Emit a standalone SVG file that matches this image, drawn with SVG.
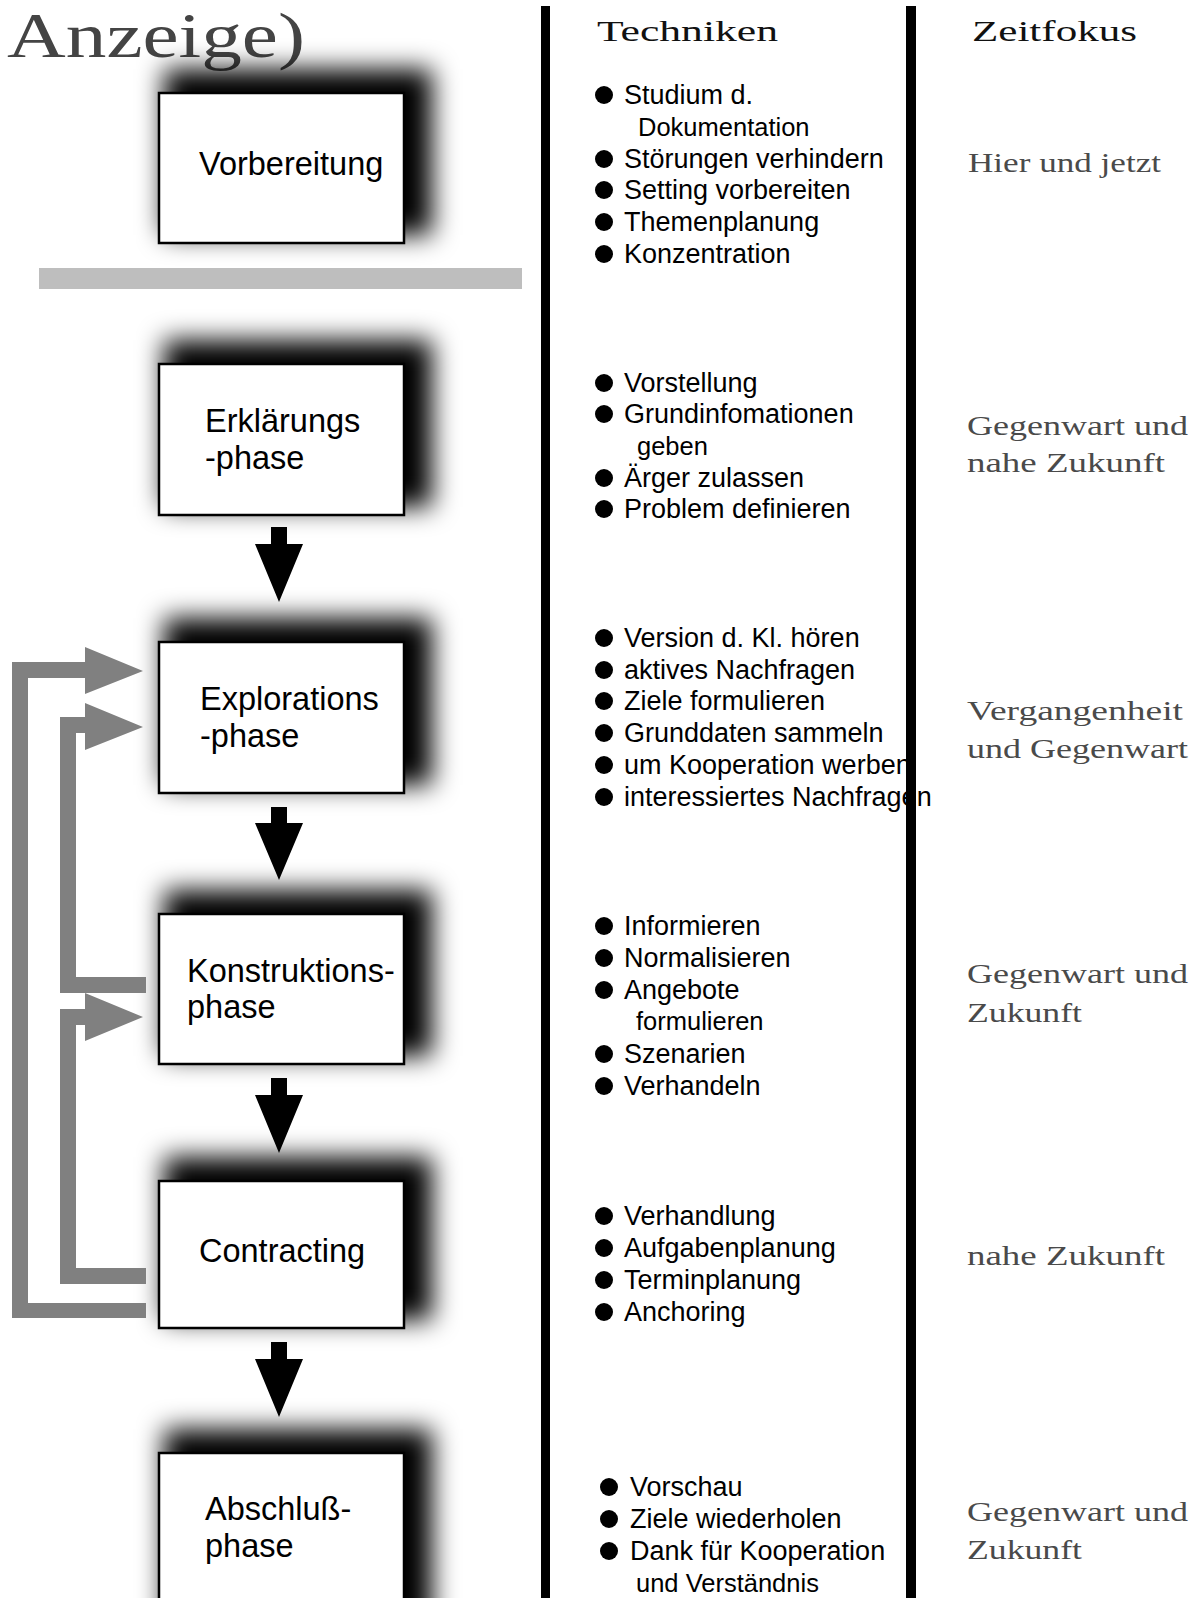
<svg xmlns="http://www.w3.org/2000/svg" width="1198" height="1598" viewBox="0 0 1198 1598">
<style>
.box{fill:#fff;stroke:#000;stroke-width:2.5}
.shadow{fill:#000;filter:url(#blur)}
.lbl{font-family:"Liberation Sans",Arial,sans-serif;font-size:32.5px;fill:#000}
.b{font-family:"Liberation Sans",Arial,sans-serif;font-size:27px;fill:#000}
.c{font-family:"Liberation Sans",Arial,sans-serif;font-size:25.5px;fill:#000}
.z{font-family:"Liberation Serif","Times New Roman",serif;font-size:27px;fill:#4a4a4a}
.h{font-family:"Liberation Serif","Times New Roman",serif;font-size:30px;fill:#111}
.fb{fill:#808080}
.down{fill:#000}
.bul{fill:#000}
</style>
<defs>
<filter id="blur" x="-40%" y="-50%" width="180%" height="200%">
<feGaussianBlur stdDeviation="13"/>
</filter>
</defs>
<rect width="1198" height="1598" fill="#fff"/>

<text x="7" y="57" font-family="'Liberation Serif','Times New Roman',serif" font-size="64" fill="#444" textLength="298" lengthAdjust="spacingAndGlyphs">Anzeige)</text>

<rect x="39" y="268" width="483" height="21" fill="#bebebe"/>

<g id="node-vorbereitung">
<rect class="shadow" x="164" y="69" width="268" height="166"/>
<rect class="box" x="159" y="93" width="245" height="150"/>
<text class="lbl" x="199" y="175">Vorbereitung</text>
</g>
<g id="node-erklaerungsphase">
<rect class="shadow" x="164" y="340" width="268" height="167"/>
<rect class="box" x="159" y="364" width="245" height="151"/>
<text class="lbl" x="205" y="432">Erklärungs</text>
<text class="lbl" x="205" y="469">-phase</text>
</g>
<g id="node-explorationsphase">
<rect class="shadow" x="164" y="618" width="268" height="167"/>
<rect class="box" x="159" y="642" width="245" height="151"/>
<text class="lbl" x="200" y="710">Explorations</text>
<text class="lbl" x="200" y="747">-phase</text>
</g>
<g id="node-konstruktionsphase">
<rect class="shadow" x="164" y="890" width="268" height="166"/>
<rect class="box" x="159" y="914" width="245" height="150"/>
<text class="lbl" x="187" y="982">Konstruktions-</text>
<text class="lbl" x="187" y="1018">phase</text>
</g>
<g id="node-contracting">
<rect class="shadow" x="164" y="1157" width="268" height="163"/>
<rect class="box" x="159" y="1181" width="245" height="147"/>
<text class="lbl" x="199" y="1262">Contracting</text>
</g>
<g id="node-abschlussphase">
<rect class="shadow" x="164" y="1429" width="268" height="200"/>
<rect class="box" x="159" y="1453" width="245" height="170"/>
<text class="lbl" x="205" y="1520">Abschluß-</text>
<text class="lbl" x="205" y="1557">phase</text>
</g>

<g id="connectors">
<polygon class="down" points="271,527 287,527 287,544 303,544 279,602 255,544 271,544"/>
<polygon class="down" points="271,807 287,807 287,823 303,823 279,880 255,823 271,823"/>
<polygon class="down" points="271,1078 287,1078 287,1095 303,1095 279,1153 255,1095 271,1095"/>
<polygon class="down" points="271,1342 287,1342 287,1359 303,1359 279,1417 255,1359 271,1359"/>
<polygon class="fb" points="146,1318 12,1318 12,662 85,662 85,647 143,671 85,694 85,678 28,678 28,1303 146,1303"/>
<polygon class="fb" points="146,993 60,993 60,717 85,717 85,703 143,727 85,750 85,733 76,733 76,977 146,977"/>
<polygon class="fb" points="146,1284 60,1284 60,1009 85,1009 85,993 143,1017 85,1041 85,1025 76,1025 76,1268 146,1268"/>
</g>

<text class="h" x="597" y="41" textLength="181" lengthAdjust="spacingAndGlyphs">Techniken</text>
<text class="h" x="972" y="41" textLength="165" lengthAdjust="spacingAndGlyphs">Zeitfokus</text>

<g id="techniken-vorbereitung">
<circle class="bul" cx="604" cy="95" r="9"/><text class="b" x="624" y="104">Studium d.</text>
<text class="c" x="638" y="136">Dokumentation</text>
<circle class="bul" cx="604" cy="159" r="9"/><text class="b" x="624" y="168">Störungen verhindern</text>
<circle class="bul" cx="604" cy="190" r="9"/><text class="b" x="624" y="199">Setting vorbereiten</text>
<circle class="bul" cx="604" cy="222" r="9"/><text class="b" x="624" y="231">Themenplanung</text>
<circle class="bul" cx="604" cy="254" r="9"/><text class="b" x="624" y="263">Konzentration</text>
</g>
<g id="techniken-erklaerung">
<circle class="bul" cx="604" cy="383" r="9"/><text class="b" x="624" y="392">Vorstellung</text>
<circle class="bul" cx="604" cy="414" r="9"/><text class="b" x="624" y="423">Grundinfomationen</text>
<text class="c" x="637" y="455">geben</text>
<circle class="bul" cx="604" cy="478" r="9"/><text class="b" x="624" y="487">Ärger zulassen</text>
<circle class="bul" cx="604" cy="509" r="9"/><text class="b" x="624" y="518">Problem definieren</text>
</g>
<g id="techniken-exploration">
<circle class="bul" cx="604" cy="638" r="9"/><text class="b" x="624" y="647">Version d. Kl. hören</text>
<circle class="bul" cx="604" cy="670" r="9"/><text class="b" x="624" y="679">aktives Nachfragen</text>
<circle class="bul" cx="604" cy="701" r="9"/><text class="b" x="624" y="710">Ziele formulieren</text>
<circle class="bul" cx="604" cy="733" r="9"/><text class="b" x="624" y="742">Grunddaten sammeln</text>
<circle class="bul" cx="604" cy="765" r="9"/><text class="b" x="624" y="774">um Kooperation werben</text>
<circle class="bul" cx="604" cy="797" r="9"/><text class="b" x="624" y="806">interessiertes Nachfragen</text>
</g>
<g id="techniken-konstruktion">
<circle class="bul" cx="604" cy="926" r="9"/><text class="b" x="624" y="935">Informieren</text>
<circle class="bul" cx="604" cy="958" r="9"/><text class="b" x="624" y="967">Normalisieren</text>
<circle class="bul" cx="604" cy="990" r="9"/><text class="b" x="624" y="999">Angebote</text>
<text class="c" x="636" y="1030">formulieren</text>
<circle class="bul" cx="604" cy="1054" r="9"/><text class="b" x="624" y="1063">Szenarien</text>
<circle class="bul" cx="604" cy="1086" r="9"/><text class="b" x="624" y="1095">Verhandeln</text>
</g>
<g id="techniken-contracting">
<circle class="bul" cx="604" cy="1216" r="9"/><text class="b" x="624" y="1225">Verhandlung</text>
<circle class="bul" cx="604" cy="1248" r="9"/><text class="b" x="624" y="1257">Aufgabenplanung</text>
<circle class="bul" cx="604" cy="1280" r="9"/><text class="b" x="624" y="1289">Terminplanung</text>
<circle class="bul" cx="604" cy="1312" r="9"/><text class="b" x="624" y="1321">Anchoring</text>
</g>
<g id="techniken-abschluss">
<circle class="bul" cx="609" cy="1487" r="9"/><text class="b" x="630" y="1496">Vorschau</text>
<circle class="bul" cx="609" cy="1519" r="9"/><text class="b" x="630" y="1528">Ziele wiederholen</text>
<circle class="bul" cx="609" cy="1551" r="9"/><text class="b" x="630" y="1560">Dank für Kooperation</text>
<text class="c" x="636" y="1592">und Verständnis</text>
</g>

<g id="zeitfokus">
<text class="z" x="968" y="172" textLength="193" lengthAdjust="spacingAndGlyphs">Hier und jetzt</text>
<text class="z" x="967" y="435" textLength="221" lengthAdjust="spacingAndGlyphs">Gegenwart und</text>
<text class="z" x="967" y="472" textLength="198" lengthAdjust="spacingAndGlyphs">nahe Zukunft</text>
<text class="z" x="967" y="720" textLength="216" lengthAdjust="spacingAndGlyphs">Vergangenheit</text>
<text class="z" x="967" y="758" textLength="221" lengthAdjust="spacingAndGlyphs">und Gegenwart</text>
<text class="z" x="967" y="983" textLength="221" lengthAdjust="spacingAndGlyphs">Gegenwart und</text>
<text class="z" x="967" y="1022" textLength="115" lengthAdjust="spacingAndGlyphs">Zukunft</text>
<text class="z" x="967" y="1265" textLength="198" lengthAdjust="spacingAndGlyphs">nahe Zukunft</text>
<text class="z" x="967" y="1521" textLength="221" lengthAdjust="spacingAndGlyphs">Gegenwart und</text>
<text class="z" x="967" y="1559" textLength="115" lengthAdjust="spacingAndGlyphs">Zukunft</text>
</g>

<rect x="541" y="6" width="9" height="1592" fill="#000"/>
<rect x="906" y="6" width="10" height="1592" fill="#000"/>
</svg>
